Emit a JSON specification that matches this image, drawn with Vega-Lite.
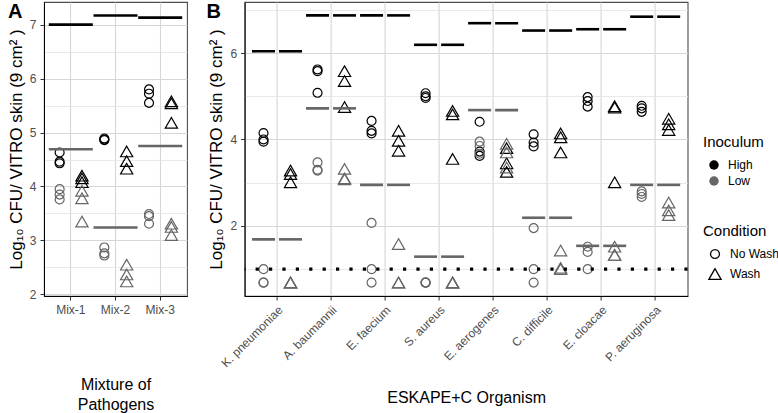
{
  "$schema": "https://vega.github.io/schema/vega-lite/v6.json",
  "background": "white",
  "padding": {"left": 6, "top": 1, "right": 5, "bottom": 0},
  "bounds": "flush",
  "config": {
    "font": "Liberation Sans",
    "view": {"stroke": "#4d4d4d", "strokeWidth": 1.1},
    "axis": {
      "labelFont": "Liberation Sans", "labelFontSize": 12, "labelColor": "#4d4d4d",
      "titleFont": "Liberation Sans", "titleFontSize": 16, "titleFontWeight": "normal", "titleColor": "black",
      "tickColor": "#333333", "tickSize": 4, "labelPadding": 4,
      "domainColor": "black", "domainWidth": 1,
      "gridColor": "#d6d6d6", "gridWidth": 1.1
    },
    "legend": {
      "titleFont": "Liberation Sans", "titleFontSize": 15, "titleFontWeight": "normal", "titleColor": "black",
      "labelFont": "Liberation Sans", "labelFontSize": 12, "labelColor": "black",
      "titlePadding": 9, "rowPadding": 4, "symbolOffset": 5, "labelOffset": 8
    }
  },
  "datasets": {
    "pointsA": [
      {"group": "Mix-1", "Inoculum": "High", "Condition": "No Wash", "value": 4.63},
      {"group": "Mix-1", "Inoculum": "High", "Condition": "No Wash", "value": 4.46},
      {"group": "Mix-1", "Inoculum": "High", "Condition": "No Wash", "value": 4.43},
      {"group": "Mix-1", "Inoculum": "Low", "Condition": "No Wash", "value": 3.95},
      {"group": "Mix-1", "Inoculum": "Low", "Condition": "No Wash", "value": 3.85},
      {"group": "Mix-1", "Inoculum": "Low", "Condition": "No Wash", "value": 3.76},
      {"group": "Mix-1", "Inoculum": "High", "Condition": "Wash", "value": 4.2},
      {"group": "Mix-1", "Inoculum": "High", "Condition": "Wash", "value": 4.15},
      {"group": "Mix-1", "Inoculum": "High", "Condition": "Wash", "value": 4.08},
      {"group": "Mix-1", "Inoculum": "Low", "Condition": "Wash", "value": 3.92},
      {"group": "Mix-1", "Inoculum": "Low", "Condition": "Wash", "value": 3.78},
      {"group": "Mix-1", "Inoculum": "Low", "Condition": "Wash", "value": 3.35},
      {"group": "Mix-2", "Inoculum": "High", "Condition": "No Wash", "value": 4.89},
      {"group": "Mix-2", "Inoculum": "High", "Condition": "No Wash", "value": 4.87},
      {"group": "Mix-2", "Inoculum": "High", "Condition": "No Wash", "value": 4.86},
      {"group": "Mix-2", "Inoculum": "Low", "Condition": "No Wash", "value": 2.87},
      {"group": "Mix-2", "Inoculum": "Low", "Condition": "No Wash", "value": 2.76},
      {"group": "Mix-2", "Inoculum": "Low", "Condition": "No Wash", "value": 2.72},
      {"group": "Mix-2", "Inoculum": "High", "Condition": "Wash", "value": 4.65},
      {"group": "Mix-2", "Inoculum": "High", "Condition": "Wash", "value": 4.47},
      {"group": "Mix-2", "Inoculum": "High", "Condition": "Wash", "value": 4.33},
      {"group": "Mix-2", "Inoculum": "Low", "Condition": "Wash", "value": 2.55},
      {"group": "Mix-2", "Inoculum": "Low", "Condition": "Wash", "value": 2.37},
      {"group": "Mix-2", "Inoculum": "Low", "Condition": "Wash", "value": 2.24},
      {"group": "Mix-3", "Inoculum": "High", "Condition": "No Wash", "value": 5.8},
      {"group": "Mix-3", "Inoculum": "High", "Condition": "No Wash", "value": 5.72},
      {"group": "Mix-3", "Inoculum": "High", "Condition": "No Wash", "value": 5.55},
      {"group": "Mix-3", "Inoculum": "Low", "Condition": "No Wash", "value": 3.49},
      {"group": "Mix-3", "Inoculum": "Low", "Condition": "No Wash", "value": 3.45},
      {"group": "Mix-3", "Inoculum": "Low", "Condition": "No Wash", "value": 3.31},
      {"group": "Mix-3", "Inoculum": "High", "Condition": "Wash", "value": 5.58},
      {"group": "Mix-3", "Inoculum": "High", "Condition": "Wash", "value": 5.54},
      {"group": "Mix-3", "Inoculum": "High", "Condition": "Wash", "value": 5.18},
      {"group": "Mix-3", "Inoculum": "Low", "Condition": "Wash", "value": 3.31},
      {"group": "Mix-3", "Inoculum": "Low", "Condition": "Wash", "value": 3.25},
      {"group": "Mix-3", "Inoculum": "Low", "Condition": "Wash", "value": 3.1}
    ],
    "linesA": [
      {"group": "Mix-1", "Inoculum": "High", "value": 7.0},
      {"group": "Mix-1", "Inoculum": "Low", "value": 4.69},
      {"group": "Mix-2", "Inoculum": "High", "value": 7.17},
      {"group": "Mix-2", "Inoculum": "Low", "value": 3.24},
      {"group": "Mix-3", "Inoculum": "High", "value": 7.13},
      {"group": "Mix-3", "Inoculum": "Low", "value": 4.75}
    ],
    "pointsB": [
      {"organism": "K. pneumoniae", "Inoculum": "High", "Condition": "No Wash", "value": 4.15},
      {"organism": "K. pneumoniae", "Inoculum": "High", "Condition": "No Wash", "value": 4.0},
      {"organism": "K. pneumoniae", "Inoculum": "High", "Condition": "No Wash", "value": 3.95},
      {"organism": "K. pneumoniae", "Inoculum": "Low", "Condition": "No Wash", "value": 1.0},
      {"organism": "K. pneumoniae", "Inoculum": "Low", "Condition": "No Wash", "value": 0.69},
      {"organism": "K. pneumoniae", "Inoculum": "Low", "Condition": "No Wash", "value": 0.69},
      {"organism": "K. pneumoniae", "Inoculum": "High", "Condition": "Wash", "value": 3.28},
      {"organism": "K. pneumoniae", "Inoculum": "High", "Condition": "Wash", "value": 3.2},
      {"organism": "K. pneumoniae", "Inoculum": "High", "Condition": "Wash", "value": 3.01},
      {"organism": "K. pneumoniae", "Inoculum": "Low", "Condition": "Wash", "value": 0.69},
      {"organism": "K. pneumoniae", "Inoculum": "Low", "Condition": "Wash", "value": 0.69},
      {"organism": "K. pneumoniae", "Inoculum": "Low", "Condition": "Wash", "value": 0.69},
      {"organism": "A. baumannii", "Inoculum": "High", "Condition": "No Wash", "value": 5.62},
      {"organism": "A. baumannii", "Inoculum": "High", "Condition": "No Wash", "value": 5.58},
      {"organism": "A. baumannii", "Inoculum": "High", "Condition": "No Wash", "value": 5.08},
      {"organism": "A. baumannii", "Inoculum": "Low", "Condition": "No Wash", "value": 3.47},
      {"organism": "A. baumannii", "Inoculum": "Low", "Condition": "No Wash", "value": 3.3},
      {"organism": "A. baumannii", "Inoculum": "Low", "Condition": "No Wash", "value": 3.28},
      {"organism": "A. baumannii", "Inoculum": "High", "Condition": "Wash", "value": 5.58},
      {"organism": "A. baumannii", "Inoculum": "High", "Condition": "Wash", "value": 5.35},
      {"organism": "A. baumannii", "Inoculum": "High", "Condition": "Wash", "value": 4.75},
      {"organism": "A. baumannii", "Inoculum": "Low", "Condition": "Wash", "value": 3.32},
      {"organism": "A. baumannii", "Inoculum": "Low", "Condition": "Wash", "value": 3.1},
      {"organism": "A. baumannii", "Inoculum": "Low", "Condition": "Wash", "value": 3.08},
      {"organism": "E. faecium", "Inoculum": "High", "Condition": "No Wash", "value": 4.43},
      {"organism": "E. faecium", "Inoculum": "High", "Condition": "No Wash", "value": 4.2},
      {"organism": "E. faecium", "Inoculum": "High", "Condition": "No Wash", "value": 4.14},
      {"organism": "E. faecium", "Inoculum": "Low", "Condition": "No Wash", "value": 2.07},
      {"organism": "E. faecium", "Inoculum": "Low", "Condition": "No Wash", "value": 1.0},
      {"organism": "E. faecium", "Inoculum": "Low", "Condition": "No Wash", "value": 0.69},
      {"organism": "E. faecium", "Inoculum": "High", "Condition": "Wash", "value": 4.2},
      {"organism": "E. faecium", "Inoculum": "High", "Condition": "Wash", "value": 3.97},
      {"organism": "E. faecium", "Inoculum": "High", "Condition": "Wash", "value": 3.74},
      {"organism": "E. faecium", "Inoculum": "Low", "Condition": "Wash", "value": 1.58},
      {"organism": "E. faecium", "Inoculum": "Low", "Condition": "Wash", "value": 0.69},
      {"organism": "E. faecium", "Inoculum": "Low", "Condition": "Wash", "value": 0.69},
      {"organism": "S. aureus", "Inoculum": "High", "Condition": "No Wash", "value": 5.07},
      {"organism": "S. aureus", "Inoculum": "High", "Condition": "No Wash", "value": 5.0},
      {"organism": "S. aureus", "Inoculum": "High", "Condition": "No Wash", "value": 4.96},
      {"organism": "S. aureus", "Inoculum": "Low", "Condition": "No Wash", "value": 0.69},
      {"organism": "S. aureus", "Inoculum": "Low", "Condition": "No Wash", "value": 0.69},
      {"organism": "S. aureus", "Inoculum": "Low", "Condition": "No Wash", "value": 0.69},
      {"organism": "S. aureus", "Inoculum": "High", "Condition": "Wash", "value": 4.66},
      {"organism": "S. aureus", "Inoculum": "High", "Condition": "Wash", "value": 4.58},
      {"organism": "S. aureus", "Inoculum": "High", "Condition": "Wash", "value": 3.55},
      {"organism": "S. aureus", "Inoculum": "Low", "Condition": "Wash", "value": 0.69},
      {"organism": "S. aureus", "Inoculum": "Low", "Condition": "Wash", "value": 0.69},
      {"organism": "S. aureus", "Inoculum": "Low", "Condition": "Wash", "value": 0.69},
      {"organism": "E. aerogenes", "Inoculum": "High", "Condition": "No Wash", "value": 4.41},
      {"organism": "E. aerogenes", "Inoculum": "High", "Condition": "No Wash", "value": 3.72},
      {"organism": "E. aerogenes", "Inoculum": "High", "Condition": "No Wash", "value": 3.62},
      {"organism": "E. aerogenes", "Inoculum": "Low", "Condition": "No Wash", "value": 3.95},
      {"organism": "E. aerogenes", "Inoculum": "Low", "Condition": "No Wash", "value": 3.85},
      {"organism": "E. aerogenes", "Inoculum": "Low", "Condition": "No Wash", "value": 3.67},
      {"organism": "E. aerogenes", "Inoculum": "High", "Condition": "Wash", "value": 3.8},
      {"organism": "E. aerogenes", "Inoculum": "High", "Condition": "Wash", "value": 3.45},
      {"organism": "E. aerogenes", "Inoculum": "High", "Condition": "Wash", "value": 3.25},
      {"organism": "E. aerogenes", "Inoculum": "Low", "Condition": "Wash", "value": 3.9},
      {"organism": "E. aerogenes", "Inoculum": "Low", "Condition": "Wash", "value": 3.7},
      {"organism": "E. aerogenes", "Inoculum": "Low", "Condition": "Wash", "value": 3.35},
      {"organism": "C. difficile", "Inoculum": "High", "Condition": "No Wash", "value": 4.12},
      {"organism": "C. difficile", "Inoculum": "High", "Condition": "No Wash", "value": 3.93},
      {"organism": "C. difficile", "Inoculum": "High", "Condition": "No Wash", "value": 3.84},
      {"organism": "C. difficile", "Inoculum": "Low", "Condition": "No Wash", "value": 1.95},
      {"organism": "C. difficile", "Inoculum": "Low", "Condition": "No Wash", "value": 1.0},
      {"organism": "C. difficile", "Inoculum": "Low", "Condition": "No Wash", "value": 0.69},
      {"organism": "C. difficile", "Inoculum": "High", "Condition": "Wash", "value": 4.14},
      {"organism": "C. difficile", "Inoculum": "High", "Condition": "Wash", "value": 4.05},
      {"organism": "C. difficile", "Inoculum": "High", "Condition": "Wash", "value": 3.7},
      {"organism": "C. difficile", "Inoculum": "Low", "Condition": "Wash", "value": 1.43},
      {"organism": "C. difficile", "Inoculum": "Low", "Condition": "Wash", "value": 1.03},
      {"organism": "C. difficile", "Inoculum": "Low", "Condition": "Wash", "value": 1.0},
      {"organism": "E. cloacae", "Inoculum": "High", "Condition": "No Wash", "value": 4.98},
      {"organism": "E. cloacae", "Inoculum": "High", "Condition": "No Wash", "value": 4.89},
      {"organism": "E. cloacae", "Inoculum": "High", "Condition": "No Wash", "value": 4.76},
      {"organism": "E. cloacae", "Inoculum": "Low", "Condition": "No Wash", "value": 1.52},
      {"organism": "E. cloacae", "Inoculum": "Low", "Condition": "No Wash", "value": 1.4},
      {"organism": "E. cloacae", "Inoculum": "Low", "Condition": "No Wash", "value": 1.0},
      {"organism": "E. cloacae", "Inoculum": "High", "Condition": "Wash", "value": 4.77},
      {"organism": "E. cloacae", "Inoculum": "High", "Condition": "Wash", "value": 4.74},
      {"organism": "E. cloacae", "Inoculum": "High", "Condition": "Wash", "value": 3.01},
      {"organism": "E. cloacae", "Inoculum": "Low", "Condition": "Wash", "value": 1.52},
      {"organism": "E. cloacae", "Inoculum": "Low", "Condition": "Wash", "value": 1.33},
      {"organism": "E. cloacae", "Inoculum": "Low", "Condition": "Wash", "value": 1.33},
      {"organism": "P. aeruginosa", "Inoculum": "High", "Condition": "No Wash", "value": 4.78},
      {"organism": "P. aeruginosa", "Inoculum": "High", "Condition": "No Wash", "value": 4.72},
      {"organism": "P. aeruginosa", "Inoculum": "High", "Condition": "No Wash", "value": 4.64},
      {"organism": "P. aeruginosa", "Inoculum": "Low", "Condition": "No Wash", "value": 2.8},
      {"organism": "P. aeruginosa", "Inoculum": "Low", "Condition": "No Wash", "value": 2.74},
      {"organism": "P. aeruginosa", "Inoculum": "Low", "Condition": "No Wash", "value": 2.67},
      {"organism": "P. aeruginosa", "Inoculum": "High", "Condition": "Wash", "value": 4.48},
      {"organism": "P. aeruginosa", "Inoculum": "High", "Condition": "Wash", "value": 4.35},
      {"organism": "P. aeruginosa", "Inoculum": "High", "Condition": "Wash", "value": 4.22},
      {"organism": "P. aeruginosa", "Inoculum": "Low", "Condition": "Wash", "value": 2.54},
      {"organism": "P. aeruginosa", "Inoculum": "Low", "Condition": "Wash", "value": 2.36},
      {"organism": "P. aeruginosa", "Inoculum": "Low", "Condition": "Wash", "value": 2.25}
    ],
    "linesB": [
      {"organism": "K. pneumoniae", "Inoculum": "High", "Condition": "No Wash", "value": 6.04},
      {"organism": "K. pneumoniae", "Inoculum": "High", "Condition": "Wash", "value": 6.04},
      {"organism": "K. pneumoniae", "Inoculum": "Low", "Condition": "No Wash", "value": 1.69},
      {"organism": "K. pneumoniae", "Inoculum": "Low", "Condition": "Wash", "value": 1.69},
      {"organism": "A. baumannii", "Inoculum": "High", "Condition": "No Wash", "value": 6.87},
      {"organism": "A. baumannii", "Inoculum": "High", "Condition": "Wash", "value": 6.87},
      {"organism": "A. baumannii", "Inoculum": "Low", "Condition": "No Wash", "value": 4.72},
      {"organism": "A. baumannii", "Inoculum": "Low", "Condition": "Wash", "value": 4.72},
      {"organism": "E. faecium", "Inoculum": "High", "Condition": "No Wash", "value": 6.87},
      {"organism": "E. faecium", "Inoculum": "High", "Condition": "Wash", "value": 6.87},
      {"organism": "E. faecium", "Inoculum": "Low", "Condition": "No Wash", "value": 2.95},
      {"organism": "E. faecium", "Inoculum": "Low", "Condition": "Wash", "value": 2.95},
      {"organism": "S. aureus", "Inoculum": "High", "Condition": "No Wash", "value": 6.19},
      {"organism": "S. aureus", "Inoculum": "High", "Condition": "Wash", "value": 6.19},
      {"organism": "S. aureus", "Inoculum": "Low", "Condition": "No Wash", "value": 1.29},
      {"organism": "S. aureus", "Inoculum": "Low", "Condition": "Wash", "value": 1.29},
      {"organism": "E. aerogenes", "Inoculum": "High", "Condition": "No Wash", "value": 6.69},
      {"organism": "E. aerogenes", "Inoculum": "High", "Condition": "Wash", "value": 6.69},
      {"organism": "E. aerogenes", "Inoculum": "Low", "Condition": "No Wash", "value": 4.68},
      {"organism": "E. aerogenes", "Inoculum": "Low", "Condition": "Wash", "value": 4.68},
      {"organism": "C. difficile", "Inoculum": "High", "Condition": "No Wash", "value": 6.52},
      {"organism": "C. difficile", "Inoculum": "High", "Condition": "Wash", "value": 6.52},
      {"organism": "C. difficile", "Inoculum": "Low", "Condition": "No Wash", "value": 2.19},
      {"organism": "C. difficile", "Inoculum": "Low", "Condition": "Wash", "value": 2.19},
      {"organism": "E. cloacae", "Inoculum": "High", "Condition": "No Wash", "value": 6.55},
      {"organism": "E. cloacae", "Inoculum": "High", "Condition": "Wash", "value": 6.55},
      {"organism": "E. cloacae", "Inoculum": "Low", "Condition": "No Wash", "value": 1.54},
      {"organism": "E. cloacae", "Inoculum": "Low", "Condition": "Wash", "value": 1.54},
      {"organism": "P. aeruginosa", "Inoculum": "High", "Condition": "No Wash", "value": 6.84},
      {"organism": "P. aeruginosa", "Inoculum": "High", "Condition": "Wash", "value": 6.84},
      {"organism": "P. aeruginosa", "Inoculum": "Low", "Condition": "No Wash", "value": 2.95},
      {"organism": "P. aeruginosa", "Inoculum": "Low", "Condition": "Wash", "value": 2.95}
    ],
    "lod": [{"limit": 1}]
  },
  "hconcat": [
    {
      "width": 143,
      "height": 294,
      "title": {"text": "A", "anchor": "start", "frame": "group", "fontSize": 20, "fontWeight": "bold", "color": "black", "offset": -20, "dx": -36, "baseline": "top"},
      "layer": [
        {
          "data": {"name": "pointsA"},
          "mark": {"type": "point", "filled": true, "fillOpacity": 0, "strokeWidth": 1.2, "opacity": 1},
          "encoding": {
            "x": {"field": "group", "type": "nominal", "scale": {"type": "band", "paddingInner": 0, "paddingOuter": 0.1},
                  "axis": {"title": ["Mixture of", "Pathogens"], "titleLineHeight": 20, "titlePadding": 61, "labelAngle": 0, "grid": true, "bandPosition": 0.5, "domain": true}},
            "xOffset": {"field": "Condition", "type": "nominal", "scale": {"type": "band", "domain": ["No Wash", "Wash"], "paddingInner": 0, "paddingOuter": 0}},
            "y": {"field": "value", "type": "quantitative", "scale": {"domain": [1.97, 7.42], "nice": false, "zero": false},
                  "axis": {"title": "Log₁₀ CFU/ VITRO skin (9  cm²  )", "titleFontSize": 17, "values": [2, 3, 4, 5, 6, 7], "grid": true, "titlePadding": 4}},
            "fill": {"field": "Inoculum", "type": "nominal", "scale": {"domain": ["High", "Low"], "range": ["#000000", "#666666"]},
                     "legend": {"title": "Inoculum", "orient": "none", "legendX": 659, "legendY": 133, "symbolType": "circle", "symbolSize": 90, "symbolStrokeWidth": 0}},
            "stroke": {"field": "Inoculum", "type": "nominal", "scale": {"domain": ["High", "Low"], "range": ["#000000", "#666666"]}, "legend": null},
            "shape": {"field": "Condition", "type": "nominal", "scale": {"domain": ["No Wash", "Wash"], "range": ["circle", "triangle-up"]},
                      "legend": {"title": "Condition", "orient": "none", "legendX": 659, "legendY": 222, "symbolFillColor": "transparent", "symbolStrokeColor": "black", "symbolStrokeWidth": 1.3}},
            "size": {"field": "Condition", "type": "nominal", "scale": {"domain": ["No Wash", "Wash"], "range": [80, 150]},
                     "legend": {"title": "Condition", "orient": "none", "legendX": 659, "legendY": 222, "symbolFillColor": "transparent", "symbolStrokeColor": "black", "symbolStrokeWidth": 1.3}}
          }
        },
        {
          "data": {"name": "linesA"},
          "mark": {"type": "tick", "size": 44, "thickness": 2.6, "opacity": 1},
          "encoding": {
            "x": {"field": "group", "type": "nominal"},
            "y": {"field": "value", "type": "quantitative",
                  "axis": {"orient": "right", "values": [2.5, 3.5, 4.5, 5.5, 6.5], "labels": false, "ticks": false, "domain": false, "title": null, "grid": true, "gridColor": "#e3e3e3", "gridWidth": 0.8}},
            "color": {"field": "Inoculum", "type": "nominal", "scale": {"domain": ["High", "Low"], "range": ["#000000", "#666666"]}, "legend": null}
          }
        }
      ],
      "resolve": {"axis": {"y": "independent"}}
    },
    {
      "width": 443,
      "height": 294,
      "title": {"text": "B", "anchor": "start", "frame": "group", "fontSize": 20, "fontWeight": "bold", "color": "black", "offset": -20, "dx": -38, "baseline": "top"},
      "layer": [
        {
          "data": {"name": "pointsB"},
          "mark": {"type": "point", "filled": true, "fillOpacity": 0, "strokeWidth": 1.2, "opacity": 1},
          "encoding": {
            "x": {"field": "organism", "type": "nominal",
                  "scale": {"type": "band", "domain": ["K. pneumoniae", "A. baumannii", "E. faecium", "S. aureus", "E. aerogenes", "C. difficile", "E. cloacae", "P. aeruginosa"], "paddingInner": 0, "paddingOuter": 0.1},
                  "axis": {"title": "ESKAPE+C Organism", "titlePadding": 21, "labelAngle": -45, "labelAlign": "right", "labelBaseline": "top", "grid": true, "bandPosition": 0.5}},
            "xOffset": {"field": "Condition", "type": "nominal", "scale": {"type": "band", "domain": ["No Wash", "Wash"], "paddingInner": 0, "paddingOuter": 0}},
            "y": {"field": "value", "type": "quantitative", "scale": {"domain": [0.38, 7.18], "nice": false, "zero": false},
                  "axis": {"title": "Log₁₀ CFU/ VITRO skin (9  cm²  )", "titleFontSize": 17, "values": [2, 4, 6], "grid": true, "titlePadding": 4}},
            "fill": {"field": "Inoculum", "type": "nominal",
                     "legend": {"title": "Inoculum", "orient": "none", "legendX": 659, "legendY": 133, "symbolType": "circle", "symbolSize": 90, "symbolStrokeWidth": 0}},
            "stroke": {"field": "Inoculum", "type": "nominal", "legend": null},
            "shape": {"field": "Condition", "type": "nominal",
                      "legend": {"title": "Condition", "orient": "none", "legendX": 659, "legendY": 222, "symbolFillColor": "transparent", "symbolStrokeColor": "black", "symbolStrokeWidth": 1.3}},
            "size": {"field": "Condition", "type": "nominal",
                     "legend": {"title": "Condition", "orient": "none", "legendX": 659, "legendY": 222, "symbolFillColor": "transparent", "symbolStrokeColor": "black", "symbolStrokeWidth": 1.3}}
          }
        },
        {
          "data": {"name": "linesB"},
          "mark": {"type": "tick", "size": 23, "thickness": 2.6, "opacity": 1},
          "encoding": {
            "x": {"field": "organism", "type": "nominal"},
            "xOffset": {"field": "Condition", "type": "nominal"},
            "y": {"field": "value", "type": "quantitative",
                  "axis": {"orient": "right", "values": [1, 3, 5, 7], "labels": false, "ticks": false, "domain": false, "title": null, "grid": true, "gridColor": "#e3e3e3", "gridWidth": 0.8}},
            "color": {"field": "Inoculum", "type": "nominal", "scale": {"domain": ["High", "Low"], "range": ["#000000", "#666666"]}, "legend": null}
          }
        },
        {
          "data": {"name": "lod"},
          "mark": {"type": "rule", "color": "black", "strokeWidth": 3.2, "strokeDash": [3.2, 10.2]},
          "encoding": {
            "y": {"field": "limit", "type": "quantitative", "axis": null}
          }
        }
      ],
      "resolve": {"axis": {"y": "independent"}}
    }
  ],
  "spacing": 57.6,
  "resolve": {"scale": {"x": "independent", "y": "independent", "xOffset": "independent"}}
}
